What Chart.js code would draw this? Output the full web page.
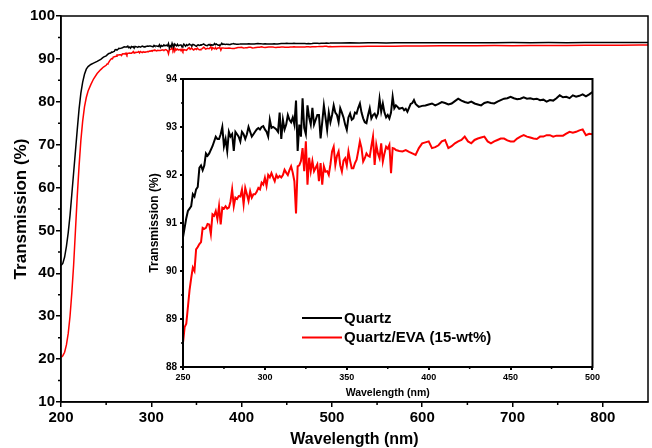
<!DOCTYPE html>
<html><head><meta charset="utf-8">
<script src="https://cdn.jsdelivr.net/npm/chart.js@4.4.0/dist/chart.umd.min.js"></script>
<style>
html,body{margin:0;padding:0;background:#fff;}
#wrap{position:relative;width:652px;height:448px;overflow:hidden;}
#main{position:absolute;left:0;top:0;}
#inset{position:absolute;left:140px;top:70px;}
</style></head><body>
<div id="wrap">
<canvas id="main" width="652" height="448"></canvas>
<canvas id="inset" width="462" height="330"></canvas>
</div>
<script>
// ---------- DATA ----------
const seriesNames = ['Quartz', 'Quartz/EVA (15-wt%)'];

// absorption edge (main plot, 200-248 nm)
const edgeNm     = [200,202,204,206,208,210,212,214,216,218,220,222,224,226,228,230,233,236,240,244,247];
const quartzEdge = [41.8,42.3,43.8,46.3,49.5,53.5,58.5,63.5,68.5,73.5,78.3,82.0,84.6,86.4,87.6,88.2,88.7,89.0,89.4,89.9,90.4];
const evaEdge    = [20.4,20.8,21.6,23.3,26.0,30.0,35.5,42.0,50.0,58.0,65.0,71.0,75.5,78.8,81.0,82.5,84.0,85.3,86.6,87.5,88.1];

// inset region (250-500 nm), Quartz
const quartzNm = [250,252,253,254,255,256,257,258,259,260,261,262,263,264,265,266,268,270,271,272,273,274,275,276,277,278,279,280,281,282,283,284,285,286,287,288,289,290,291,292,293,294,295,296,297,298,299,300,301,302,303,304,305,306,307,308,309,310,311,312,313,314,315,316,317,318,319,320,321,322,323,324,325,326,327,328,329,330,331,332,333,334,335,336,337,338,339,340,341,342,343,344,345,346,347,348,349,350,351,352,353,354,355,356,357,358,359,360,361,362,363,364,365,366,367,368,369,370,371,372,373,374,375,376,377,378,379,380,381,382,383,384,385,386,387,388,389,390,391,392,393,394,396,398,400,402,404,406,408,410,412,414,416,418,420,422,424,426,428,430,432,434,436,438,440,442,444,446,448,450,452,454,456,458,460,462,464,466,468,470,472,474,476,478,480,482,484,486,488,490,492,494,496,498,500];
const quartzT  = [90.7,91.1,91.25,91.3,91.35,91.6,91.55,91.7,91.75,92.15,92.2,92.1,92.2,92.45,92.4,92.45,92.6,92.8,92.75,92.75,92.85,93.0,92.6,92.75,92.5,92.9,92.8,92.85,92.5,92.9,92.85,92.8,92.7,92.9,92.85,92.75,92.85,93.0,92.9,92.8,92.85,92.9,92.95,92.98,92.95,93.0,93.02,92.95,92.9,92.8,93.15,92.98,93.0,92.98,92.95,92.9,93.3,92.75,93.15,92.95,93.05,93.25,93.15,93.1,93.2,93.05,93.55,92.5,93.05,92.8,93.6,92.98,92.85,93.45,93.2,93.05,93.4,93.05,93.15,93.25,93.25,92.76,93.1,93.45,93.2,92.94,93.3,93.1,93.25,93.45,93.3,93.25,93.1,93.39,93.3,93.2,93.05,92.94,93.2,93.28,93.15,93.18,93.3,93.28,93.4,93.49,93.3,93.18,93.1,93.08,93.25,93.39,93.18,93.25,93.28,93.2,93.28,93.59,93.32,93.49,93.3,93.2,93.25,93.18,93.3,93.63,93.39,93.45,93.42,93.38,93.39,93.4,93.35,93.38,93.32,93.4,93.48,93.5,93.56,93.48,93.45,93.42,93.44,93.45,93.47,93.49,93.45,93.48,93.52,93.5,93.47,93.49,93.54,93.59,93.55,93.52,93.5,93.53,93.49,93.47,93.45,93.5,93.52,93.5,93.49,93.53,93.56,93.59,93.6,93.63,93.6,93.58,93.59,93.62,93.59,93.6,93.58,93.59,93.56,93.57,93.53,93.56,93.55,93.6,93.66,93.62,93.63,93.6,93.66,93.63,93.65,93.68,93.64,93.68,93.73];

// inset region (250-500 nm), Quartz/EVA
const evaNm = [250,251,252,253,254,255,256,257,258,259,260,261,262,263,264,265,266,267,268,269,270,271,272,273,274,275,276,277,278,279,280,281,282,283,284,285,286,287,288,289,290,291,292,293,294,295,296,297,298,299,300,301,302,303,304,305,306,307,308,309,310,311,312,313,314,315,316,317,318,319,320,321,322,323,324,325,326,327,328,329,330,331,332,333,334,335,336,337,338,339,340,341,342,343,344,345,346,347,348,349,350,351,352,353,354,355,356,357,358,359,360,361,362,363,364,365,366,367,368,369,370,371,372,373,374,375,376,377,378,379,380,382,384,386,388,390,392,394,396,398,400,402,404,406,408,410,412,414,416,418,420,422,424,426,428,430,432,434,436,438,440,442,444,446,448,450,452,454,456,458,460,462,464,466,468,470,472,474,476,478,480,482,484,486,488,490,492,494,496,498,500];
const evaT  = [88.5,88.83,88.9,89.25,89.6,89.85,90.07,90.0,90.45,90.5,90.56,90.6,90.9,90.88,90.9,90.98,90.97,90.77,91.18,91.15,91.25,91.08,91.35,90.97,91.32,91.3,91.35,91.3,91.32,91.45,91.7,91.35,91.53,91.5,91.56,91.55,91.7,91.39,91.73,91.6,91.46,91.66,91.53,91.6,91.6,91.65,91.73,91.7,91.84,91.8,91.94,91.77,92.0,91.95,92.04,91.95,91.87,92.0,91.94,91.98,91.95,92.0,92.11,92.05,92.0,92.1,92.18,92.05,91.87,91.2,92.18,92.2,92.29,92.56,92.08,92.7,91.8,92.36,92.08,92.29,92.08,92.15,92.22,91.87,92.25,91.8,92.18,92.07,92.08,92.0,92.22,92.49,92.59,92.21,92.4,92.49,92.2,92.07,92.3,92.35,92.2,92.49,92.3,92.14,92.14,92.25,92.32,92.5,92.7,92.56,92.28,92.35,92.45,92.4,92.38,92.6,92.8,92.21,92.63,92.45,92.35,92.66,92.28,92.45,92.59,92.55,92.63,92.04,92.56,92.55,92.52,92.5,92.49,92.52,92.48,92.45,92.42,92.56,92.66,92.68,92.7,92.56,92.58,92.62,92.7,92.73,92.56,92.6,92.66,92.7,92.73,92.8,92.7,92.66,92.73,92.76,92.78,92.8,92.7,92.66,92.7,92.73,92.76,92.76,92.72,92.7,92.7,92.76,92.8,92.83,92.8,92.78,92.76,92.75,92.8,92.8,92.83,92.83,92.8,92.82,92.82,92.82,92.86,92.9,92.88,92.9,92.93,92.95,92.83,92.86,92.85];

// long-wavelength tail (main plot, 510-850 nm)
const tailNm     = [510,520,530,540,550,560,570,580,590,600,620,640,660,680,700,720,740,760,780,800,820,840,850];
const quartzTail = [93.72,93.75,93.7,93.74,93.76,93.73,93.75,93.77,93.74,93.76,93.78,93.76,93.79,93.77,93.8,93.78,93.81,93.79,93.82,93.8,93.83,93.81,93.85];
const evaTail    = [92.88,92.9,92.86,92.92,92.95,92.93,92.97,93.0,92.98,93.02,93.05,93.04,93.08,93.1,93.09,93.13,93.15,93.14,93.18,93.2,93.19,93.23,93.24];

// tick labels
const mainXTicks  = [200,300,400,500,600,700,800];
const mainYTicks  = [10,20,30,40,50,60,70,80,90,100];
const insetXTicks = [250,300,350,400,450,500];
const insetYTicks = [88,89,90,91,92,93,94];

// ---------- BUILD ----------
const pts = (xs, ys) => xs.map((x, i) => ({x: x, y: ys[i]}));
const mainQuartz = pts(edgeNm, quartzEdge).concat(pts(quartzNm, quartzT), pts(tailNm, quartzTail));
const mainEva    = pts(edgeNm, evaEdge).concat(pts(evaNm, evaT), pts(tailNm, evaTail));

const FONT = '"Liberation Sans", Arial, sans-serif';
const BLACK = '#000000', RED = '#ff0000';

function framePlugin(lw) {
  return {
    id: 'frame',
    afterDraw(chart) {
      const a = chart.chartArea, ctx = chart.ctx;
      ctx.save();
      ctx.strokeStyle = '#000'; ctx.lineWidth = lw;
      ctx.strokeRect(a.left, a.top, a.right - a.left, a.bottom - a.top);
      ctx.restore();
    }
  };
}
function minorPlugin(xStep, yStep, len, lw) {
  return {
    id: 'minor',
    afterDraw(chart) {
      const ctx = chart.ctx, xs = chart.scales.x, ys = chart.scales.y;
      ctx.save(); ctx.strokeStyle = '#000'; ctx.lineWidth = lw; ctx.beginPath();
      for (let v = xs.min + xStep; v < xs.max; v += 2 * xStep) {
        const p = xs.getPixelForValue(v);
        ctx.moveTo(p, xs.top); ctx.lineTo(p, xs.top + len);
      }
      for (let v = ys.min + yStep; v < ys.max; v += 2 * yStep) {
        const p = ys.getPixelForValue(v);
        ctx.moveTo(ys.right, p); ctx.lineTo(ys.right - len, p);
      }
      ctx.stroke(); ctx.restore();
    }
  };
}
function legendPlugin() {
  return {
    id: 'insetLegend',
    afterDraw(chart) {
      const a = chart.chartArea, ctx = chart.ctx;
      ctx.save();
      ctx.font = 'bold 15px ' + FONT; ctx.textBaseline = 'middle'; ctx.fillStyle = '#000';
      chart.data.datasets.forEach((ds, i) => {
        const y = a.top + 239 + i * 19.6;
        ctx.strokeStyle = ds.borderColor; ctx.lineWidth = 2;
        ctx.beginPath(); ctx.moveTo(a.left + 119, y); ctx.lineTo(a.left + 159, y); ctx.stroke();
        ctx.fillText(ds.label, a.left + 161, y + 0.5);
      });
      ctx.restore();
    }
  };
}

function axis(opts) {
  return {
    type: 'linear', min: opts.min, max: opts.max,
    afterBuildTicks: s => { s.ticks = opts.ticks.map(v => ({value: v})); },
    afterFit: s => { if (opts.w !== undefined) s.width = opts.w; if (opts.h !== undefined) s.height = opts.h; },
    grid: {drawOnChartArea: false, drawTicks: true, tickLength: opts.tl, color: '#000', lineWidth: opts.lw},
    border: {display: true, color: '#000', width: opts.lw},
    ticks: {color: '#000', font: {family: FONT, size: opts.fs, weight: 'bold'}, padding: opts.pad, maxRotation: 0, autoSkip: false},
    title: {display: true, text: opts.title, color: '#000', font: {family: FONT, size: opts.ts, weight: 'bold', lineHeight: 1}, padding: opts.tpad}
  };
}

new Chart(document.getElementById('main'), {
  type: 'line',
  data: {datasets: [
    {label: seriesNames[0], data: mainQuartz, borderColor: BLACK, borderWidth: 1.5, pointRadius: 0, tension: 0, fill: false},
    {label: seriesNames[1], data: mainEva, borderColor: RED, borderWidth: 1.5, pointRadius: 0, tension: 0, fill: false}
  ]},
  options: {
    responsive: false, animation: false, events: [],
    layout: {padding: {top: 16, right: 4, left: 0, bottom: 0}},
    plugins: {legend: {display: false}, tooltip: {enabled: false}},
    scales: {
      x: axis({min: 200, max: 850, ticks: mainXTicks, h: 46, tl: 5, lw: 1.5, fs: 15, pad: 2, title: 'Wavelength (nm)', ts: 16, tpad: {top: 0, bottom: 0}}),
      y: axis({min: 10, max: 100, ticks: mainYTicks, w: 61, tl: 5, lw: 1.5, fs: 15, pad: 1, title: 'Transmission (%)', ts: 17, tpad: {top: 13, bottom: 0}})
    }
  },
  plugins: [framePlugin(1.5), minorPlugin(50, 5, 3, 1.5)]
});

new Chart(document.getElementById('inset'), {
  type: 'line',
  data: {datasets: [
    {label: seriesNames[0], data: pts(quartzNm, quartzT), borderColor: BLACK, borderWidth: 2, pointRadius: 0, tension: 0, fill: false},
    {label: seriesNames[1], data: pts(evaNm, evaT), borderColor: RED, borderWidth: 2, pointRadius: 0, tension: 0, fill: false}
  ]},
  options: {
    responsive: false, animation: false, events: [],
    layout: {padding: {top: 7, right: 8, left: 0, bottom: 0}},
    plugins: {legend: {display: false}, tooltip: {enabled: false}},
    scales: {
      x: axis({min: 250, max: 500, ticks: insetXTicks, h: 33, tl: 3, lw: 2, fs: 9, pad: 2, title: 'Wavelength (nm)', ts: 10.5, tpad: {top: 0, bottom: 2}}),
      y: axis({min: 88, max: 94, ticks: insetYTicks, w: 43, tl: 3, lw: 2, fs: 10, pad: 3, title: 'Transmission (%)', ts: 12, tpad: {top: 9, bottom: 0}})
    }
  },
  plugins: [framePlugin(2), minorPlugin(25, 0.5, 2, 1.5), legendPlugin()]
});
</script>
</body></html>
